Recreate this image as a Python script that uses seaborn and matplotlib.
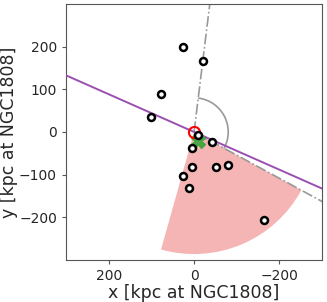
"""
Satellite positions around NGC1808 (projected, kpc).
"""

import numpy as np
import matplotlib
matplotlib.use('Agg')
import matplotlib.pyplot as plt
from matplotlib.patches import Wedge, Arc
import seaborn as sns

# satellite positions [kpc]
sat_x = [26, -20, 77, 101, -9, -43, 4, 6, -52, -80, 26, 12, -165]
sat_y = [199, 167, 89, 36, -7, -23, -38, -83, -82, -78, -103, -131, -207]

# host centre and offset centroid
host_xy = (0, 0)
centroid_xy = (-10, -20)

# orientation of the major axis (slope of the line through the host)
major_slope = 0.442

# opening of the satellite wedge and reference directions [deg]
wedge_theta = (208.5, 285.7)
wedge_radius = 286
ref_angles = [97, 208.5]
arc_radius = 80

xlim = (300, -300)
ylim = (-300, 300)
xticks = [200, 0, -200]
yticks = [200, 100, 0, -100, -200]


def main():
    sns.set_style('ticks')
    plt.rcParams['font.family'] = ['DejaVu Sans']

    fig = plt.figure(figsize=(3.27, 3.02), dpi=100)
    ax = fig.add_axes([0.202, 0.139, 0.783, 0.848])

    # satellite wedge
    ax.add_patch(Wedge(host_xy, wedge_radius, wedge_theta[0], wedge_theta[1],
                       facecolor='#f5b5b5', edgecolor='none', zorder=1))

    # reference rays and the angle between them
    for ang in ref_angles:
        t = np.deg2rad(ang)
        ax.plot([0, 500 * np.cos(t)], [0, 500 * np.sin(t)], ls='-.',
                color='#999999', lw=1.2, zorder=2)
    ax.add_patch(Arc(host_xy, 2 * arc_radius, 2 * arc_radius,
                     theta1=ref_angles[0], theta2=ref_angles[1],
                     color='#999999', lw=1.2, zorder=2))

    # major axis
    xs = np.array([400, -400])
    ax.plot(xs, major_slope * xs, color='#9b4fb0', lw=1.4, zorder=3)

    # satellites
    ax.plot(sat_x, sat_y, 'o', mfc='white', mec='black', mew=1.8, ms=5,
            ls='none', zorder=5)
    ax.plot(*centroid_xy, 'X', color='#3aa53a', ms=10, alpha=0.9, zorder=4)
    ax.plot(*host_xy, 'o', mfc='none', mec='red', mew=1.5, ms=8, zorder=4)

    ax.set_xlim(*xlim)
    ax.set_ylim(*ylim)
    ax.set_xticks(xticks)
    ax.set_yticks(yticks)
    ax.tick_params(labelsize=10, length=3, color='#555555')
    for s in ax.spines.values():
        s.set_color('#555555')
    ax.set_xlabel('x [kpc at NGC1808]', fontsize=12.5, labelpad=1)
    ax.set_ylabel('y [kpc at NGC1808]', fontsize=12.5, labelpad=1)

    fig.savefig('out.png', dpi=100)
    plt.close(fig)


if __name__ == "__main__":
    main()
